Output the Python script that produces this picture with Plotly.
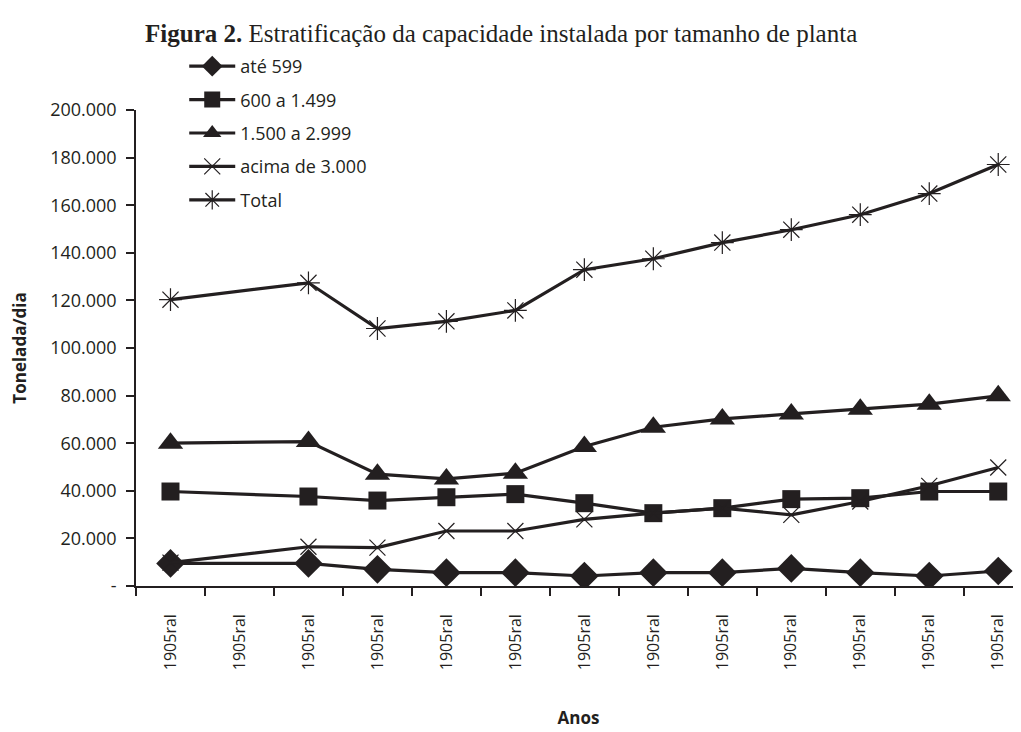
import plotly.graph_objects as go

# 13 category slots; slot 1 has no data
x_slots = list(range(13))
tick_labels = ["1905ral"] * 13

ate_599 = [9500, None, 9500, 7000, 5600, 5600, 4200, 5600, 5600, 7400, 5600, 4200, 6300]
de_600_a_1499 = [39700, None, 37600, 35900, 37300, 38600, 34800, 30600, 32700, 36500, 36900, 39700, 39700]
de_1500_a_2999 = [60000, None, 60700, 47000, 45000, 47400, 58600, 66700, 70200, 72300, 74300, 76400, 79900]
acima_3000 = [9800, None, 16500, 16100, 23100, 23100, 28000, 30600, 32700, 29900, 35500, 42100, 49800]
total = [120300, None, 127400, 108200, 111200, 115800, 132900, 137500, 144300, 149700, 156000, 164900, 177100]

series_names = ["até 599", "600 a 1.499", "1.500 a 2.999", "acima de 3.000", "Total"]
series_values = [ate_599, de_600_a_1499, de_1500_a_2999, acima_3000, total]
y_ticks = [0, 20000, 40000, 60000, 80000, 100000, 120000, 140000, 160000, 180000, 200000]
y_tick_text = ["-", "20.000", "40.000", "60.000", "80.000", "100.000", "120.000",
               "140.000", "160.000", "180.000", "200.000"]

INK = "#231f20"
marker_styles = [
    dict(symbol="diamond", size=22, color=INK),
    dict(symbol="square", size=18, color=INK),
    dict(symbol="triangle-up", size=22, color=INK),
    dict(symbol="x-thin-open", size=16, color=INK, line=dict(width=1.2, color=INK)),
    dict(symbol="asterisk-open", size=19, color=INK, line=dict(width=1.2, color=INK)),
]

fig = go.Figure()
for name, vals, mk in zip(series_names, series_values, marker_styles):
    fig.add_trace(go.Scatter(
        x=x_slots, y=vals, name=name, mode="lines+markers",
        connectgaps=True, legendgroup=name,
        line=dict(color=INK, width=3.2),
        marker=mk,
    ))

font_sans = "Open Sans, Liberation Sans, sans-serif"
fig.update_layout(
    width=1021, height=732,
    margin=dict(l=128, r=8, t=102, b=154),
    paper_bgcolor="white", plot_bgcolor="white",
    font=dict(family=font_sans, size=18, color=INK),
    title=dict(
        text="<b>Figura 2.</b> Estratificação da capacidade instalada por tamanho de planta",
        font=dict(family="Liberation Serif, DejaVu Serif, serif", size=25, color=INK),
        x=0.483, xanchor="center", y=1 - 25 / 732, yanchor="middle",
    ),
    legend=dict(
        x=0.0545, y=1.0 + 62 / 476, xanchor="left", yanchor="top",
        bgcolor="rgba(0,0,0,0)", tracegroupgap=7, itemwidth=46,
        font=dict(family=font_sans, size=18, color=INK),
        itemsizing="trace",
    ),
    showlegend=True,
)
fig.update_xaxes(
    range=[-0.5, 12.33], tickmode="array", tickvals=x_slots, ticktext=tick_labels,
    tickangle=-90, ticks="", ticklabelstandoff=20, automargin=False,
    showline=True, linecolor=INK, linewidth=1.5, showgrid=False, zeroline=False,
    minor=dict(tickmode="array", tickvals=[i - 0.5 for i in range(13)],
               ticks="outside", ticklen=8, tickwidth=1.5, tickcolor=INK, showgrid=False),
    title=dict(text="<b>Anos</b>", standoff=43, font=dict(size=17)),
    tickfont=dict(size=16),
)
fig.update_yaxes(
    range=[0, 200000], tickmode="array", tickvals=y_ticks, ticktext=y_tick_text,
    ticks="outside", ticklen=8, tickwidth=1.5, tickcolor=INK, ticklabelstandoff=6,
    automargin=False,
    showline=True, linecolor=INK, linewidth=1.5, showgrid=False, zeroline=False,
    title=dict(text="<b>Tonelada/dia</b>", standoff=24, font=dict(size=17)),
    tickfont=dict(size=18),
)

fig.write_html("out.html")
